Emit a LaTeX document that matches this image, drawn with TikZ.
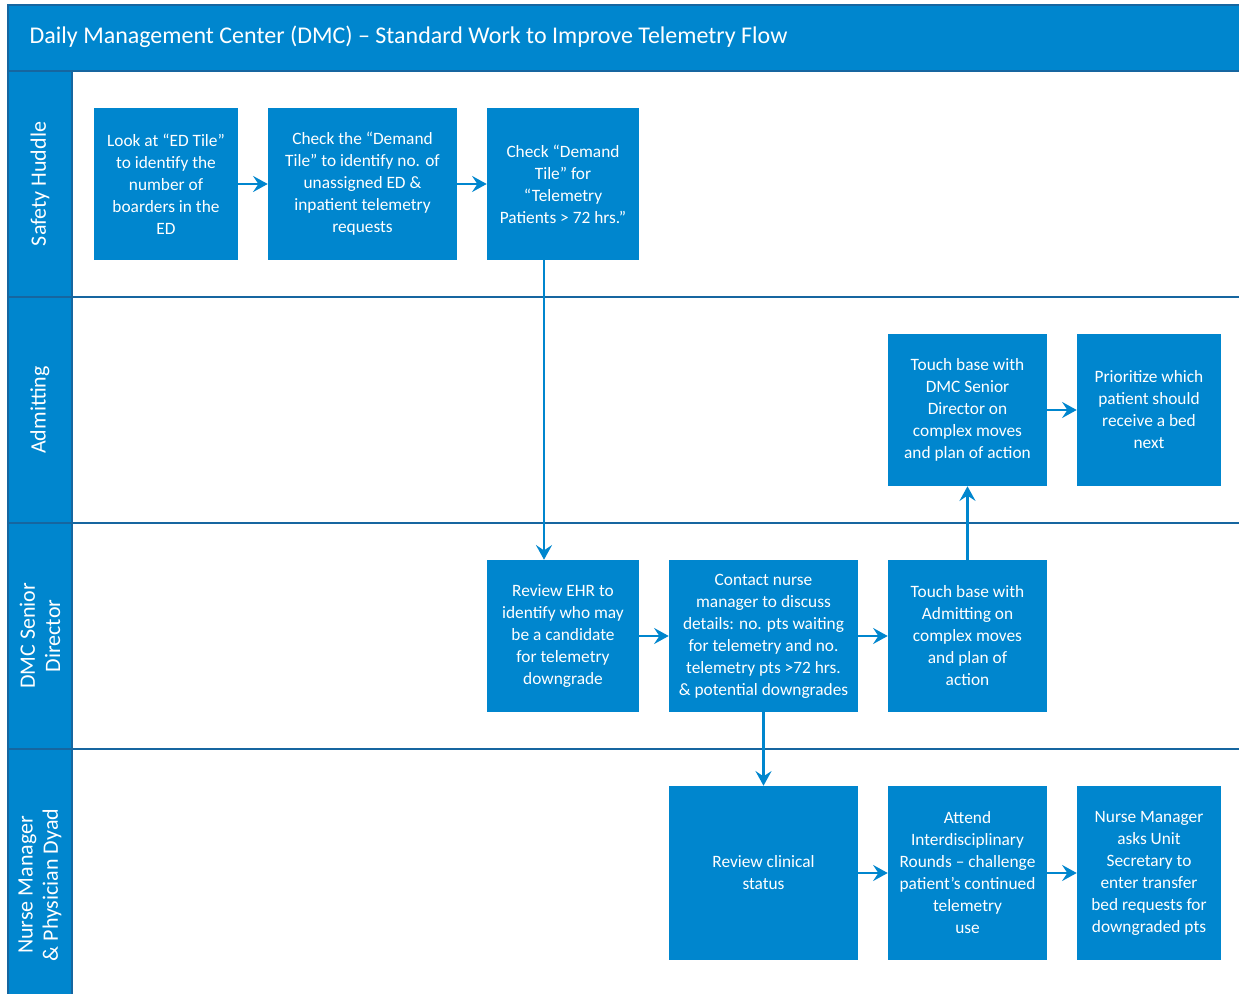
\documentclass[tikz,border=0pt]{standalone}
\usepackage{fontspec}
\setmainfont{Carlito}
\usetikzlibrary{arrows.meta}
\definecolor{boxblue}{RGB}{0,134,206}
\definecolor{lanedark}{RGB}{22,102,160}

\begin{document}
\begin{tikzpicture}[x=0.75pt, y=-0.75pt, >={Stealth[length=11pt,width=12pt,inset=4pt]},
    box/.style={fill=boxblue, text=white, align=center, inner sep=2pt,
        minimum height=114pt, font=\fontsize{13}{16.5}\selectfont},
    narrow/.style={minimum width=108pt},
    mid/.style={minimum width=114pt},
    broad/.style={minimum width=119.25pt},
    wide/.style={minimum width=141.75pt},
    tall/.style={minimum height=130.5pt},
    lanebox/.style={fill=boxblue, draw=lanedark, line width=1.2pt},
    lanetext/.style={text=white, rotate=90, align=center, font=\fontsize{16.5}{19}\selectfont},
    flow/.style={->, draw=boxblue, line width=1.8pt}]
    \useasboundingbox (0,0) rectangle (1239,994);
    % header and swimlanes
    \fill[white] (0,0) rectangle (1239,994);
    \draw[lanebox] (8,5) rectangle (1245,71);
    \node[anchor=west, text=white, font=\fontsize{18}{21}\selectfont] (title) at (25,37)
        {Daily Management Center (DMC) -- Standard Work to Improve Telemetry Flow};
    \foreach \ya/\yb in {71/297, 297/523, 523/749, 749/1000} {
        \draw[lanebox] (8,\ya) rectangle (72,\yb);
    }
    \foreach \y in {297, 523, 749} {
        \draw[lanedark, line width=1.2pt] (72,\y) -- (1245,\y);
    }
    \node[lanetext] (safety) at (40,184) {Safety Huddle};
    \node[lanetext] (admit) at (40,410) {Admitting};
    \node[lanetext] (dmc) at (40,636) {DMC Senior\\Director};
    \node[lanetext] (nurse) at (40,885) {Nurse Manager\\\& Physician Dyad};

    % safety huddle
    \node[box, narrow] (a1) at (166,184) {Look at ``ED Tile''\\to identify the\\number of\\boarders in the\\ED};
    \node[box, wide] (a2) at (362.5,184) {Check the ``Demand\\Tile'' to identify no. of\\unassigned ED \&\\inpatient telemetry\\requests};
    \node[box, mid] (a3) at (563,184) {Check ``Demand\\Tile'' for\\``Telemetry\\Patients > 72 hrs.''};

    % admitting
    \node[box, broad] (b1) at (967.5,410) {Touch base with\\DMC Senior\\Director on\\complex moves\\and plan of action};
    \node[box, narrow] (b2) at (1149,410) {Prioritize which\\patient should\\receive a bed\\next};

    % DMC senior director
    \node[box, mid] (c1) at (563,636) {Review EHR to\\identify who may\\be a candidate\\for telemetry\\downgrade};
    \node[box, wide] (c2) at (763.5,636) {Contact nurse\\manager to discuss\\details: no. pts waiting\\for telemetry and no.\\telemetry pts >72 hrs.\\\& potential downgrades};
    \node[box, broad] (c3) at (967.5,636) {Touch base with\\Admitting on\\complex moves\\and plan of\\action};

    % nurse manager & physician dyad
    \node[box, wide, tall] (d1) at (763.5,873) {Review clinical\\status};
    \node[box, broad, tall] (d2) at (967.5,873) {Attend\\Interdisciplinary\\Rounds -- challenge\\patient's continued\\telemetry\\use};
    \node[box, narrow, tall] (d3) at (1149,873) {Nurse Manager\\asks Unit\\Secretary to\\enter transfer\\bed requests for\\downgraded pts};

    % connectors
    \draw[flow] (a1) -- (a2);
    \draw[flow] (a2) -- (a3);
    \draw[flow] ([xshift=-14.25pt]a3.south) -- ([xshift=-14.25pt]c1.north);
    \draw[flow] (c1) -- (c2);
    \draw[flow] (c2) -- (c3);
    \draw[flow] (c3) -- (b1);
    \draw[flow] (b1) -- (b2);
    \draw[flow] (c2) -- (d1);
    \draw[flow] (d1) -- (d2);
    \draw[flow] (d2) -- (d3);
\end{tikzpicture}
\end{document}
